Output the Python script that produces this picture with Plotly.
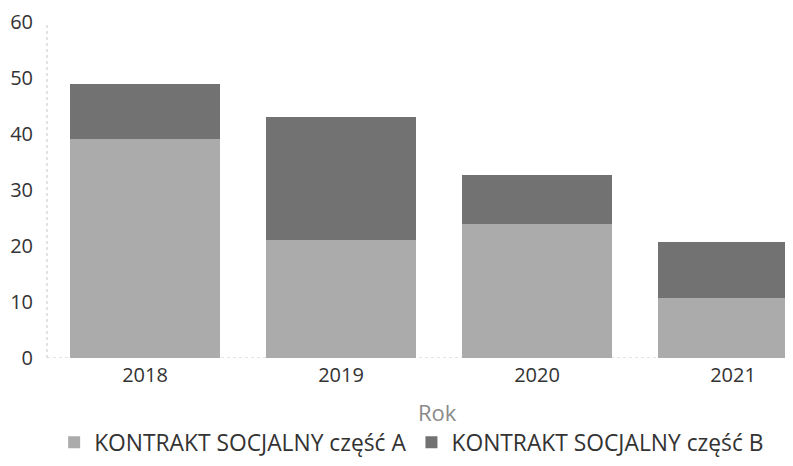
import plotly.graph_objects as go

years = ["2018", "2019", "2020", "2021"]
part_a = [39.1, 21.1, 23.9, 10.7]
part_b = [9.9, 21.9, 8.8, 10.0]
series_names = ["KONTRAKT SOCJALNY część A", "KONTRAKT SOCJALNY część B"]
y_ticks = [0, 10, 20, 30, 40, 50, 60]

FONT = "Open Sans, Noto Sans, DejaVu Sans, sans-serif"

fig = go.Figure()
fig.add_trace(go.Bar(x=years, y=part_a, name=series_names[0], width=0.765,
                     marker=dict(color="#ababab", line=dict(width=0))))
fig.add_trace(go.Bar(x=years, y=part_b, name=series_names[1], width=0.765,
                     marker=dict(color="#727272", line=dict(width=0))))

fig.update_layout(
    barmode="stack",
    width=793, height=466,
    margin=dict(l=39, r=8, t=14, b=116, autoexpand=False),
    paper_bgcolor="white", plot_bgcolor="white",
    font=dict(family=FONT, color="#333333", size=20),
    showlegend=True,
    legend=dict(orientation="h", xref="container", yref="container",
                x=0.509, y=0.068, xanchor="center", yanchor="middle",
                font=dict(size=22.8, color="#333333"), itemwidth=30,
                tracegroupgap=0, traceorder="normal"),
    xaxis=dict(type="category", range=[-0.5, 3.306], showgrid=False,
               showline=False, ticks="", automargin=False,
               ticklabelstandoff=3,
               tickfont=dict(size=20, color="#333333")),
    yaxis=dict(range=[0, 60], tickvals=y_ticks, showgrid=False, zeroline=False,
               showline=False, ticks="", automargin=False,
               tickfont=dict(size=20, color="#333333"),
               ticklabelstandoff=13),
    annotations=[dict(text="Rok", xref="paper", yref="paper", x=0.524, y=-0.16,
                      xanchor="center", yanchor="middle", showarrow=False,
                      font=dict(size=22, color="#8a8a8a"))],
    shapes=[
        dict(type="line", xref="paper", yref="paper", x0=0, x1=0, y0=0, y1=1,
             line=dict(color="#c8c8c8", width=1, dash="dot"), layer="below"),
        dict(type="line", xref="paper", yref="y", x0=0, x1=1, y0=0, y1=0,
             line=dict(color="#c8c8c8", width=1, dash="dot"), layer="below"),
    ],
)

fig.write_html("out.html")
